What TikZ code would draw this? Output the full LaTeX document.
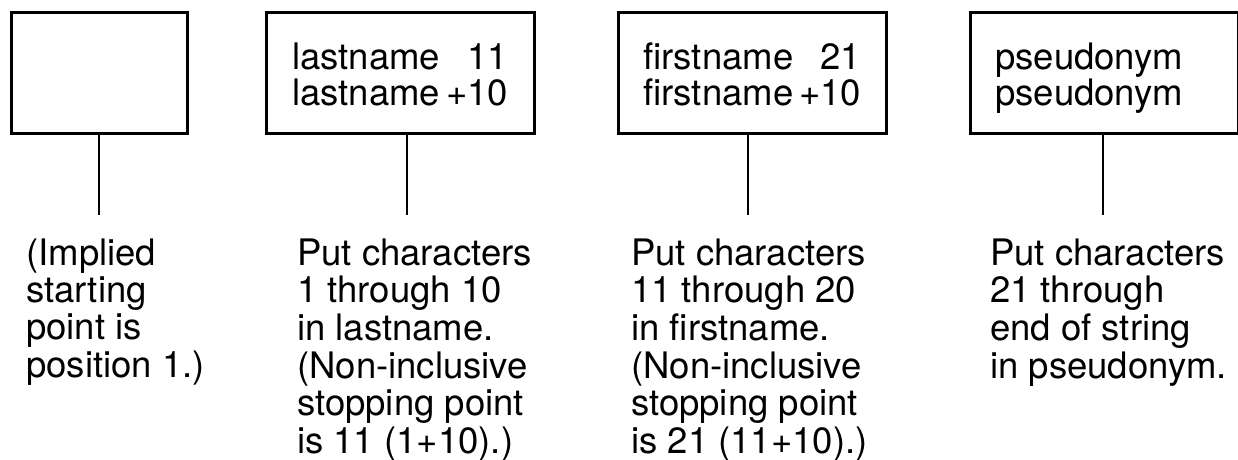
\documentclass[tikz,border=0pt]{standalone}
\usepackage{fontspec}
\setmainfont{TeX Gyre Heros}
\usetikzlibrary{positioning,calc}
\tikzset{
  fieldbox/.style={draw, line width=2.5, minimum width=#1, minimum height=121, inner sep=0, anchor=north west},
  fieldtext/.style={font=\fontsize{36.5}{34}\selectfont, inner sep=0, anchor=base west},
  notetext/.style={font=\fontsize{36.5}{37.2}\selectfont, inner sep=0, anchor=base west},
  leader/.style={line width=2}
}
\begin{document}
\begin{tikzpicture}[x=1pt,y=-1pt]
\useasboundingbox (0,0) rectangle (1238,459);

%Shape: Rectangle [id:start]
\node[fieldbox=176] (start) at (10,11) {};
%Shape: Rectangle [id:last]
\node[fieldbox=268] (last) at (265,11) {};
%Shape: Rectangle [id:first]
\node[fieldbox=268] (first) at (617,11) {};
%Shape: Rectangle [id:pseudo]
\node[fieldbox=268] (pseudo) at (969,11) {};

% Text Node
\node[fieldtext] (lasttxt) at (292,69) {\begin{tabular}[t]{@{}l@{\,}r@{}}lastname&11\\lastname&+10\end{tabular}};
% Text Node
\node[fieldtext] (firsttxt) at (643,69) {\begin{tabular}[t]{@{}l@{\,}r@{}}firstname&21\\firstname&+10\end{tabular}};
% Text Node
\node[fieldtext] (pseudotxt) at (995,69) {\begin{tabular}[t]{@{}l@{}}pseudonym\\pseudonym\end{tabular}};

%Straight Lines
\coordinate (tipstart) at (99,215);
\coordinate (tiplast) at (407,215);
\coordinate (tipfirst) at (748,215);
\coordinate (tippseudo) at (1103,215);
\draw[leader] (tipstart |- start.south) -- (tipstart);
\draw[leader] (tiplast |- last.south) -- (tiplast);
\draw[leader] (tipfirst |- first.south) -- (tipfirst);
\draw[leader] (tippseudo |- pseudo.south) -- (tippseudo);

% Text Node
\node[notetext] (startnote) at (26,265) {\begin{tabular}[t]{@{}l@{}}(Implied\\starting\\point is\\position 1.)\end{tabular}};
% Text Node
\node[notetext] (lastnote) at (297,265) {\begin{tabular}[t]{@{}l@{}}Put characters\\1 through 10\\in lastname.\\(Non-inclusive\\stopping point\\is 11 (1+10).)\end{tabular}};
% Text Node
\node[notetext] (firstnote) at (631,265) {\begin{tabular}[t]{@{}l@{}}Put characters\\11 through 20\\in firstname.\\(Non-inclusive\\stopping point\\is 21 (11+10).)\end{tabular}};
% Text Node
\node[notetext] (pseudonote) at (990,265) {\begin{tabular}[t]{@{}l@{}}Put characters\\21 through\\end of string\\in pseudonym.\end{tabular}};

\end{tikzpicture}
\end{document}
